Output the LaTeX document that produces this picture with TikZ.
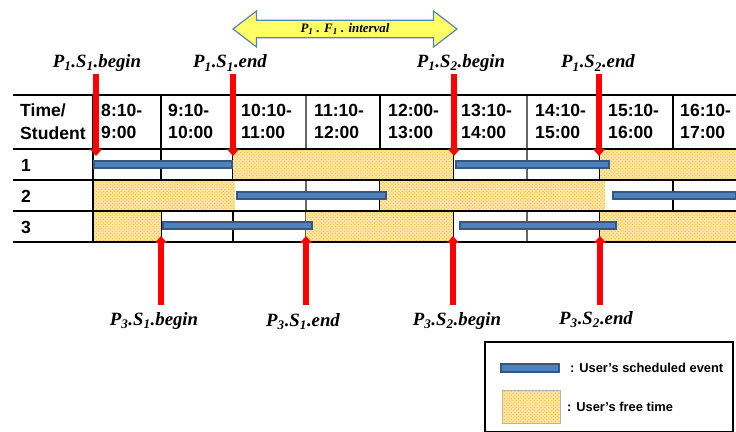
\documentclass[tikz,border=0pt]{standalone}
\usepackage{fontspec}
\setmainfont{Liberation Sans}
\newfontfamily\labfont{Liberation Serif}
\usetikzlibrary{arrows.meta,shapes.arrows,patterns}
\definecolor{mred}{RGB}{255,0,0}
\definecolor{sblue}{RGB}{79,129,189}
\definecolor{sbdark}{RGB}{52,88,132}
\definecolor{fyel}{RGB}{253,228,160}
\definecolor{forg}{RGB}{242,182,50}
\definecolor{ayel}{RGB}{255,255,102}
\definecolor{ablue}{RGB}{84,130,190}
\newcommand{\evlab}[4]{P\textsubscript{#1}.#2\textsubscript{#3}.#4}
\tikzset{
  hd/.style={anchor=west,align=left,font=\fontsize{15}{19.5}\selectfont\bfseries,inner sep=0pt},
  rw/.style={anchor=west,font=\fontsize{15}{18}\selectfont\bfseries,inner sep=0pt},
  ev/.style={font=\labfont\fontsize{16}{18}\selectfont\bfseries\itshape,inner sep=0pt},
  busy/.style={draw=sbdark,fill=sblue,line width=0.9pt},
  free/.style={fill=fyel,postaction={pattern=crosshatch dots,pattern color=forg}},
  mk/.style={draw=mred,line width=4.5pt,-{Triangle[length=6pt,width=10pt]}},
  hl/.style={line width=1.5pt},
  vl/.style={line width=1.3pt},
  vg/.style={line width=1.3pt,draw=black!60},
  iv/.style={double arrow,draw=ablue,fill=ayel,line width=1pt,
    double arrow head extend=0.225cm,double arrow tip angle=75,
    minimum height=6.72cm,minimum width=1.08cm,inner sep=1pt,
    font=\labfont\fontsize{11}{12}\selectfont\bfseries\itshape},
  lg/.style={anchor=west,font=\fontsize{11}{13}\selectfont\bfseries,inner sep=0pt},
}
\begin{document}
\begin{tikzpicture}[x=0.03cm,y=-0.03cm]
\useasboundingbox (0,0) rectangle (736,432);
% column lines
\draw[vl] (93,95) -- (93,242);
\draw[vl] (161,95) -- (161,242);
\draw[vl] (233,95) -- (233,242);
\draw[vg] (306,95) -- (306,242);
\draw[vl] (380,95) -- (380,242);
\draw[vl] (453,95) -- (453,242);
\draw[vg] (527,95) -- (527,242);
\draw[vl] (600,95) -- (600,242);
\draw[vl] (673,95) -- (673,242);
% free time
\path[free] (233,150) rectangle (453,179);
\path[free] (600,150) rectangle (736,179);
\path[free] (94,181) rectangle (235,210);
\path[free] (380,181) rectangle (605,210);
\path[free] (94,212) rectangle (161,241);
\path[free] (306,212) rectangle (453,241);
\path[free] (600,212) rectangle (736,241);
% row lines
\draw[hl] (13,95) -- (736,95);
\draw[hl] (13,149) -- (736,149);
\draw[hl] (13,180) -- (736,180);
\draw[hl] (13,211) -- (736,211);
\draw[hl] (13,242) -- (736,242);
% scheduled events
\draw[busy] (94,161) rectangle (232,168);
\draw[busy] (456,161) rectangle (609,168);
\draw[busy] (237,192) rectangle (386,199);
\draw[busy] (613,192) rectangle (736,199);
\draw[busy] (163,222) rectangle (312,229);
\draw[busy] (460,222) rectangle (616,229);
% header
\node[hd] (h0) at (20,121.5) {Time/\\Student};
\node[hd] (h1) at (101,121.5) {8:10-\\9:00};
\node[hd] (h2) at (168,121.5) {9:10-\\10:00};
\node[hd] (h3) at (241,121.5) {10:10-\\11:00};
\node[hd] (h4) at (314,121.5) {11:10-\\12:00};
\node[hd] (h5) at (388,121.5) {12:00-\\13:00};
\node[hd] (h6) at (461,121.5) {13:10-\\14:00};
\node[hd] (h7) at (535,121.5) {14:10-\\15:00};
\node[hd] (h8) at (608,121.5) {15:10-\\16:00};
\node[hd] (h9) at (680,121.5) {16:10-\\17:00};
\node[rw] (r1) at (21,165) {1};
\node[rw] (r2) at (21,196) {2};
\node[rw] (r3) at (21,227) {3};
% interval arrow
\node[iv] (fint) at (345,29) {P\textsubscript{1} . F\textsubscript{1} . interval};
% P1 markers
\node[ev] (p1b) at (97,63) {\evlab{1}{S}{1}{begin}};
\node[ev] (p1e) at (230,63) {\evlab{1}{S}{1}{end}};
\node[ev] (p2b) at (461,63) {\evlab{1}{S}{2}{begin}};
\node[ev] (p2e) at (598,63) {\evlab{1}{S}{2}{end}};
\coordinate (t1a) at (96,74);  \coordinate (t1b) at (96,156);
\coordinate (t2a) at (233,74); \coordinate (t2b) at (233,156);
\coordinate (t3a) at (454,74); \coordinate (t3b) at (454,156);
\coordinate (t4a) at (599,74); \coordinate (t4b) at (599,156);
\draw[mk] (t1a) -- (t1b);
\draw[mk] (t2a) -- (t2b);
\draw[mk] (t3a) -- (t3b);
\draw[mk] (t4a) -- (t4b);
% P3 markers
\node[ev] (q1b) at (154,321) {\evlab{3}{S}{1}{begin}};
\node[ev] (q1e) at (303,322) {\evlab{3}{S}{1}{end}};
\node[ev] (q2b) at (457,321) {\evlab{3}{S}{2}{begin}};
\node[ev] (q2e) at (596,320) {\evlab{3}{S}{2}{end}};
\coordinate (b1a) at (161,305); \coordinate (b1b) at (161,236);
\coordinate (b2a) at (306,305); \coordinate (b2b) at (306,236);
\coordinate (b3a) at (453,305); \coordinate (b3b) at (453,236);
\coordinate (b4a) at (600,305); \coordinate (b4b) at (600,236);
\draw[mk] (b1a) -- (b1b);
\draw[mk] (b2a) -- (b2b);
\draw[mk] (b3a) -- (b3b);
\draw[mk] (b4a) -- (b4b);
% legend
\draw[line width=1.2pt] (485,342) rectangle (733,432);
\draw[busy] (501,364) rectangle (559,372);
\node[lg] (lg1) at (570,368) {: User's scheduled event};
\path[free,draw=black!30,line width=0.4pt] (502,390) rectangle (560,423);
\node[lg] (lg2) at (567,407) {: User's free time};
\end{tikzpicture}
\end{document}
